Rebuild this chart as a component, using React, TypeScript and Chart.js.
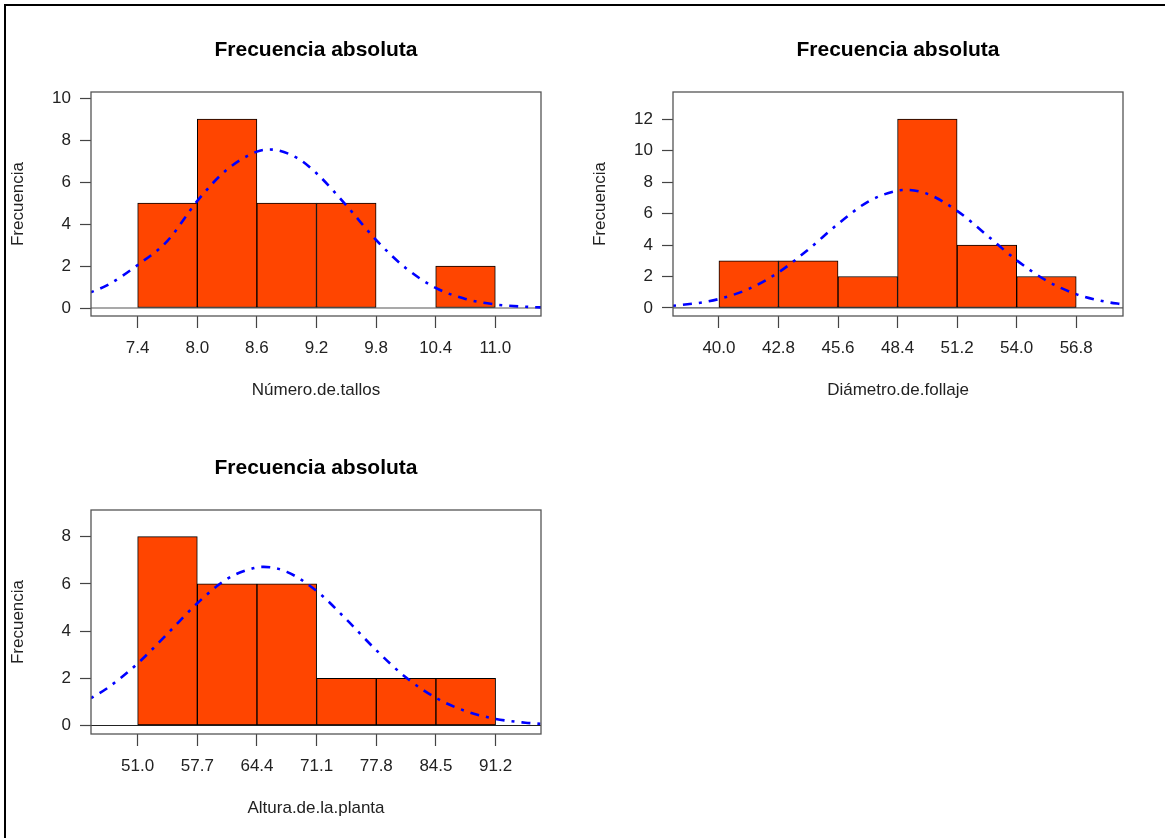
import React, { useEffect, useRef } from 'react';
import { Chart, registerables } from 'chart.js';

Chart.register(...registerables);

const FONT = '"Liberation Sans", Arial, Helvetica, sans-serif';
const TITLE = 'Frecuencia absoluta';
const Y_TITLE = 'Frecuencia';

// ---- Panel 1: Número.de.tallos ----
const tallosEdges = [7.4, 8.0, 8.6, 9.2, 9.8, 10.4, 11.0];
const tallosTickLabels = ['7.4', '8.0', '8.6', '9.2', '9.8', '10.4', '11.0'];
const tallosCounts = [5, 9, 5, 5, 0, 2];
const tallosCurveX = [6.93, 7.1, 7.4, 7.7, 8.0, 8.3, 8.6, 8.73, 9.0, 9.2, 9.5, 9.8, 10.1, 10.4, 10.7, 11.0, 11.3, 11.46];
const tallosCurveY = [0.75, 1.1, 2.05, 3.2, 5.1, 6.6, 7.45, 7.55, 7.16, 6.42, 4.89, 3.24, 1.9, 0.96, 0.43, 0.17, 0.06, 0.03];
const tallosYTicks = [0, 2, 4, 6, 8, 10];
const tallosRange = { xMin: 6.93, xMax: 11.46, yMin: -0.38, yMax: 10.29 };

// ---- Panel 2: Diámetro.de.follaje ----
const diametroEdges = [40.0, 42.8, 45.6, 48.4, 51.2, 54.0, 56.8];
const diametroTickLabels = ['40.0', '42.8', '45.6', '48.4', '51.2', '54.0', '56.8'];
const diametroCounts = [3, 3, 2, 12, 4, 2];
const diametroCurveX = [37.84, 39.2, 40.0, 41.4, 42.8, 44.2, 45.6, 47.0, 48.4, 48.79, 49.8, 51.2, 52.6, 54.0, 55.4, 56.8, 58.2, 59.0];
const diametroCurveY = [0.14, 0.35, 0.57, 1.21, 2.26, 3.71, 5.34, 6.74, 7.46, 7.5, 7.25, 6.17, 4.62, 3.03, 1.74, 0.88, 0.39, 0.23];
const diametroYTicks = [0, 2, 4, 6, 8, 10, 12];
const diametroRange = { xMin: 37.84, xMax: 59.0, yMin: -0.51, yMax: 13.72 };

// ---- Panel 3: Altura.de.la.planta ----
const alturaEdges = [51.0, 57.7, 64.4, 71.1, 77.8, 84.5, 91.2];
const alturaTickLabels = ['51.0', '57.7', '64.4', '71.1', '77.8', '84.5', '91.2'];
const alturaCounts = [8, 6, 6, 2, 2, 2];
const alturaCurveX = [45.76, 47.65, 51.0, 54.35, 57.7, 61.05, 64.4, 65.16, 67.75, 71.1, 74.45, 77.8, 81.15, 84.5, 87.85, 91.2, 94.55, 96.3];
const alturaCurveY = [1.16, 1.6, 2.63, 3.89, 5.18, 6.21, 6.7, 6.72, 6.51, 5.7, 4.49, 3.19, 2.03, 1.17, 0.61, 0.28, 0.12, 0.07];
const alturaYTicks = [0, 2, 4, 6, 8];
const alturaRange = { xMin: 45.76, xMax: 96.3, yMin: -0.36, yMax: 9.13 };

type PanelDef = {
  xTitle: string;
  edges: number[];
  tickLabels: string[];
  counts: number[];
  curveX: number[];
  curveY: number[];
  yTicks: number[];
  range: { xMin: number; xMax: number; yMin: number; yMax: number };
  left: number;
  top: number;
  width: number;
  height: number;
  padRight: number;
  zeroColor: string;
};

const panels: PanelDef[] = [
  { xTitle: 'Número.de.tallos', edges: tallosEdges, tickLabels: tallosTickLabels, counts: tallosCounts, curveX: tallosCurveX, curveY: tallosCurveY, yTicks: tallosYTicks, range: tallosRange, left: 0, top: 0, width: 582, height: 420, padRight: 41, zeroColor: '#555' },
  { xTitle: 'Diámetro.de.follaje', edges: diametroEdges, tickLabels: diametroTickLabels, counts: diametroCounts, curveX: diametroCurveX, curveY: diametroCurveY, yTicks: diametroYTicks, range: diametroRange, left: 582, top: 0, width: 583, height: 420, padRight: 42, zeroColor: '#555' },
  { xTitle: 'Altura.de.la.planta', edges: alturaEdges, tickLabels: alturaTickLabels, counts: alturaCounts, curveX: alturaCurveX, curveY: alturaCurveY, yTicks: alturaYTicks, range: alturaRange, left: 0, top: 418, width: 582, height: 420, padRight: 41, zeroColor: '#222' },
];

const framePlugin = {
  id: 'rFrame',
  beforeDatasetsDraw(chart: any) {
    const { ctx, chartArea, scales } = chart;
    const y0 = scales.y.getPixelForValue(0);
    ctx.save();
    ctx.strokeStyle = chart.options.plugins.rFrame?.zeroColor || '#555';
    ctx.lineWidth = 1.2;
    ctx.beginPath();
    ctx.moveTo(chartArea.left, y0);
    ctx.lineTo(chartArea.right, y0);
    ctx.stroke();
    ctx.restore();
  },
  afterDraw(chart: any) {
    const { ctx, chartArea } = chart;
    ctx.save();
    ctx.strokeStyle = '#555';
    ctx.lineWidth = 1.3;
    ctx.strokeRect(chartArea.left, chartArea.top, chartArea.right - chartArea.left, chartArea.bottom - chartArea.top);
    ctx.restore();
  },
};

function HistPanel({ def }: { def: PanelDef }) {
  const ref = useRef<HTMLCanvasElement | null>(null);
  useEffect(() => {
    if (!ref.current) return;
    const bars = def.counts.map((c, i) => ({ x: (def.edges[i] + def.edges[i + 1]) / 2, y: c }));
    const curve = def.curveX.map((x, i) => ({ x, y: def.curveY[i] }));
    const tickFont = { family: FONT, size: 17 };
    const chart = new Chart(ref.current, {
      type: 'bar',
      data: {
        datasets: [
          {
            type: 'line',
            data: curve,
            borderColor: '#0000FF',
            borderWidth: 2.6,
            borderDash: [3, 7, 9, 7],
            pointRadius: 0,
            fill: false,
            cubicInterpolationMode: 'monotone',
            order: 0,
          } as any,
          {
            type: 'bar',
            data: bars,
            backgroundColor: '#FF4500',
            borderColor: '#000000',
            borderWidth: 1,
            borderSkipped: false,
            barPercentage: 1,
            categoryPercentage: 1,
            order: 1,
          } as any,
        ],
      },
      options: {
        animation: false,
        responsive: false,
        devicePixelRatio: 1,
        layout: { padding: { left: 0, right: def.padRight, top: 0, bottom: 0 } },
        plugins: {
          legend: { display: false },
          tooltip: { enabled: false },
          title: {
            display: true,
            text: TITLE,
            fullSize: false,
            color: '#000',
            font: { family: FONT, size: 21, weight: 'bold' },
            padding: { top: 37.4, bottom: 29.4 },
          },
          rFrame: { zeroColor: def.zeroColor },
        } as any,
        scales: {
          x: {
            type: 'linear',
            min: def.range.xMin,
            max: def.range.xMax,
            offset: false,
            afterBuildTicks: (s: any) => {
              s.ticks = def.edges.map((v) => ({ value: v }));
            },
            afterFit: (s: any) => {
              s.height = 104;
            },
            ticks: {
              autoSkip: false,
              maxRotation: 0,
              minRotation: 0,
              padding: 9.8,
              color: '#222',
              font: tickFont,
              callback: (_v: any, i: number) => def.tickLabels[i],
            },
            grid: { offset: false, drawOnChartArea: false, drawTicks: true, tickLength: 12, color: '#444', tickWidth: 1.2 },
            border: { display: false },
            title: { display: true, text: def.xTitle, color: '#222', font: tickFont, padding: { top: 0, bottom: 19.8 } },
          },
          y: {
            type: 'linear',
            min: def.range.yMin,
            max: def.range.yMax,
            afterBuildTicks: (s: any) => {
              s.ticks = def.yTicks.map((v) => ({ value: v }));
            },
            afterFit: (s: any) => {
              s.width = 91;
            },
            ticks: {
              padding: 9,
              color: '#222',
              font: tickFont,
              callback: (v: any) => String(v),
            },
            grid: { drawOnChartArea: false, drawTicks: true, tickLength: 11, color: '#444', tickWidth: 1.2 },
            border: { display: false },
            title: { display: true, text: Y_TITLE, color: '#222', font: tickFont, padding: { top: 7.8, bottom: 0 } },
          },
        },
      } as any,
      plugins: [framePlugin],
    });
    return () => chart.destroy();
  }, [def]);
  return (
    <canvas
      ref={ref}
      width={def.width}
      height={def.height}
      style={{ position: 'absolute', left: def.left, top: def.top, width: def.width, height: def.height }}
    />
  );
}

export default function App() {
  return (
    <div
      style={{
        position: 'absolute',
        left: 0,
        top: 0,
        width: 1165,
        height: 838,
        overflow: 'hidden',
        background: '#fff',
      }}
    >
      {panels.map((p, i) => (
        <HistPanel key={i} def={p} />
      ))}
      <div
        style={{
          position: 'absolute',
          left: 4,
          top: 4,
          width: 1300,
          height: 1000,
          borderTop: '2px solid #000',
          borderLeft: '2px solid #000',
          pointerEvents: 'none',
        }}
      />
    </div>
  );
}
